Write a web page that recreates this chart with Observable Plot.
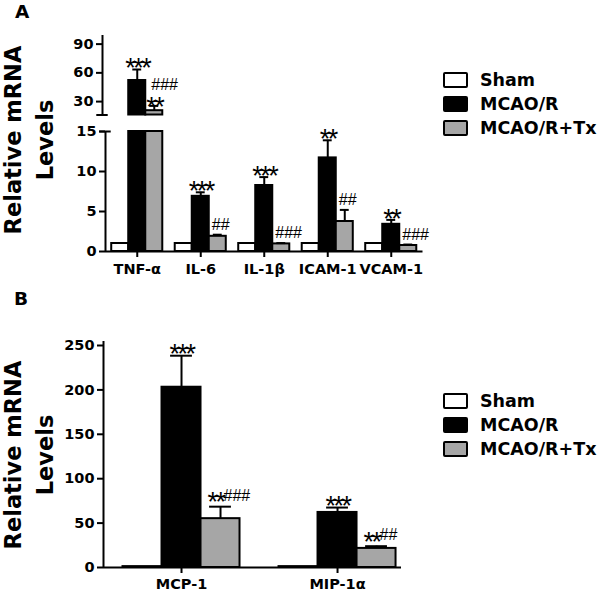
<!DOCTYPE html>
<html>
<head>
<meta charset="utf-8">
<script src="https://cdn.jsdelivr.net/npm/d3@7"></script>
<script src="https://cdn.jsdelivr.net/npm/@observablehq/plot@0.6"></script>
<style>
  body { margin: 0; background: #fff; }
  #fig { position: relative; width: 600px; height: 594px; overflow: hidden; background: #fff;
         font-family: "DejaVu Sans", sans-serif; font-weight: bold; color: #000; }
  #fig svg { position: absolute; left: 0; }
  #fig g[font-size="27"] text { letter-spacing: -2.5px; }
  .letter { position: absolute; font-size: 18.5px; line-height: 1; }
  .ytitle { position: absolute; width: 260px; height: 64px; line-height: 32px; font-size: 22.5px;
            text-align: center; transform: rotate(-90deg); white-space: nowrap; }
  .legend { position: absolute; left: 443px; }
  .legend .row { position: absolute; left: 0; display: flex; align-items: center; height: 24px;
                 font-size: 17.5px; white-space: nowrap; }
  .legend .sw { box-sizing: border-box; width: 25px; height: 16px; border: 2.5px solid #000;
                border-radius: 2px; margin-right: 12px; }
</style>
</head>
<body>
<div id="fig"></div>
<script>
// ---------- data ----------
const groups = ["Sham", "MCAO/R", "MCAO/R+Tx"];
const groupFills = ["#ffffff", "#000000", "#a6a6a6"];

// Panel A
const genesA = ["TNF-α", "IL-6", "IL-1β", "ICAM-1", "VCAM-1"];
const shamA = [1, 1, 1, 1, 1];
const mcaoA = [52, 6.9, 8.25, 11.7, 3.4];
const txA = [20.5, 1.9, 0.95, 3.75, 0.75];
const shamErrA = [0, 0, 0, 0, 0];
const mcaoErrA = [11.5, 0.5, 1.05, 2.2, 0.55];
const txErrA = [5, 0.2, 0.1, 1.45, 0.12];
const mcaoSigA = ["***", "***", "***", "**", "**"];
const txSigA = ["**", "", "", "", ""];
const txHashA = ["###", "##", "###", "##", "###"];
const yTicksLowA = [0, 5, 10, 15];
const yTicksHighA = [30, 60, 90];

// Panel B
const genesB = ["MCP-1", "MIP-1α"];
const shamB = [1, 1];
const mcaoB = [203, 62];
const txB = [55, 21.5];
const shamErrB = [0, 0];
const mcaoErrB = [35.5, 5.5];
const txErrB = [13.5, 2.5];
const mcaoSigB = ["***", "***"];
const txSigB = ["**", "**"];
const txHashB = ["###", "##"];
const yTicksB = [0, 50, 100, 150, 200, 250];

const yTitle = ["Relative mRNA", "Levels"];

// ---------- helpers ----------
function buildRows(genes, vals, errs, mSig, tSig, tHash) {
  return genes.flatMap((gene, i) => groups.map((group, j) => ({
    gene, i, group, j,
    value: vals[j][i], err: errs[j][i], top: vals[j][i] + errs[j][i],
    sig: j === 1 ? mSig[i] : j === 2 ? tSig[i] : "",
    hash: j === 2 ? tHash[i] : ""
  })));
}
const cxF = bw => d => d.i + (d.j - 1) * bw;
const x1F = bw => d => d.i + (d.j - 1.5) * bw;
const x2F = bw => d => d.i + (d.j - 0.5) * bw;
const barStyle = {fill: "group", stroke: "#000", strokeWidth: 2};
const axisFont = {fontFamily: "DejaVu Sans", fontWeight: "bold", fontSize: 14.5};
const starFont = {fontFamily: "Liberation Sans", fontWeight: "normal", fontSize: 27};
const hashFont = {fontFamily: "Liberation Sans", fontWeight: "normal", fontSize: 16};
const svgStyle = {fontFamily: "DejaVu Sans", fontWeight: "bold", fontSize: "14.5px", background: "transparent", overflow: "visible"};

function annotA(rows, cx) {
  return [
    Plot.text(rows.filter(d => d.j === 1), {x: cx, y: "top", text: "sig", dy: -1, ...starFont}),
    Plot.text(rows.filter(d => d.j === 2 && d.sig), {x: cx, y: "top", text: "sig", dy: 1, ...starFont}),
    Plot.text(rows.filter(d => d.j === 2 && !d.sig), {x: cx, y: "top", text: "hash", textAnchor: "start", dx: -6, dy: -10, ...hashFont}),
    Plot.text(rows.filter(d => d.j === 2 && d.sig), {x: cx, y: "top", text: "hash", textAnchor: "start", dx: -3, dy: -21, ...hashFont})
  ];
}

const fig = document.getElementById("fig");

// ---------- Panel A (broken axis: lower and upper segments) ----------
const rowsA = buildRows(genesA, [shamA, mcaoA, txA], [shamErrA, mcaoErrA, txErrA], mcaoSigA, txSigA, txHashA);
const LOW_MAX = 15, HIGH_MIN = 16, HIGH_MAX = 99;
const xDomA = [-0.5, genesA.length - 0.5];
const bwA = 0.268, capA = 0.07, brkA = 0.09;
const cxA = cxF(bwA);
const lowRowsA = rowsA.filter(d => d.value <= LOW_MAX);
const highRowsA = rowsA.filter(d => d.value > HIGH_MIN);

const plotALow = Plot.plot({
  width: 600, height: 290,
  marginLeft: 105, marginRight: 177.5, marginTop: 131, marginBottom: 39,
  x: {domain: xDomA},
  y: {domain: [0, LOW_MAX]},
  color: {domain: groups, range: groupFills},
  style: svgStyle,
  marks: [
    Plot.rect(rowsA, {x1: x1F(bwA), x2: x2F(bwA), y1: 0, y2: d => Math.min(d.value, LOW_MAX), ...barStyle}),
    Plot.ruleX(lowRowsA.filter(d => d.err > 0), {x: cxA, y1: "value", y2: "top", strokeWidth: 2}),
    Plot.ruleY(lowRowsA.filter(d => d.err > 0), {y: "top", x1: d => cxA(d) - capA, x2: d => cxA(d) + capA, strokeWidth: 2}),
    Plot.ruleY([0], {strokeWidth: 2}),
    Plot.ruleX([xDomA[0]], {y1: 0, y2: LOW_MAX, strokeWidth: 2}),
    Plot.ruleY([LOW_MAX], {x1: xDomA[0] - brkA, x2: xDomA[0] + brkA, strokeWidth: 2}),
    Plot.axisY(yTicksLowA, {tickSize: 6, tickPadding: 3, strokeWidth: 2, label: null, ...axisFont}),
    Plot.axisX(d3.range(genesA.length), {tickFormat: i => genesA[i], tickSize: 6, tickPadding: 6, strokeWidth: 2, label: null, ...axisFont}),
    ...annotA(lowRowsA, cxA)
  ]
});
plotALow.style.top = "0px";
fig.appendChild(plotALow);

const plotAHigh = Plot.plot({
  width: 600, height: 120,
  marginLeft: 105, marginRight: 177.5, marginTop: 35, marginBottom: 5.5,
  x: {domain: xDomA, axis: null},
  y: {domain: [HIGH_MIN, HIGH_MAX]},
  color: {domain: groups, range: groupFills},
  style: svgStyle,
  marks: [
    Plot.rect(highRowsA, {x1: x1F(bwA), x2: x2F(bwA), y1: HIGH_MIN, y2: "value", ...barStyle}),
    Plot.ruleX(highRowsA.filter(d => d.err > 0), {x: cxA, y1: "value", y2: "top", strokeWidth: 2}),
    Plot.ruleY(highRowsA.filter(d => d.err > 0), {y: "top", x1: d => cxA(d) - capA, x2: d => cxA(d) + capA, strokeWidth: 2}),
    Plot.ruleX([xDomA[0]], {y1: HIGH_MIN, y2: HIGH_MAX, strokeWidth: 2, dx: -3}),
    Plot.ruleY([HIGH_MIN], {x1: xDomA[0] - brkA, x2: xDomA[0] + brkA, strokeWidth: 2, dx: -3}),
    Plot.axisY(yTicksHighA, {tickSize: 6, tickPadding: 3, strokeWidth: 2, label: null, dx: -3, ...axisFont}),
    ...annotA(highRowsA, cxA)
  ]
});
plotAHigh.style.top = "0px";
fig.appendChild(plotAHigh);

// ---------- Panel B ----------
const rowsB = buildRows(genesB, [shamB, mcaoB, txB], [shamErrB, mcaoErrB, txErrB], mcaoSigB, txSigB, txHashB);
const errRowsB = rowsB.filter(d => d.err > 0);
const xDomB = [-0.5, genesB.length - 0.59];
const yMaxB = 254.5;
const bwB = 0.25, capB = 0.07;
const cxB = cxF(bwB);

const plotB = Plot.plot({
  width: 600, height: 304,
  marginLeft: 103, marginRight: 199, marginTop: 51, marginBottom: 27,
  x: {domain: xDomB},
  y: {domain: [0, yMaxB]},
  color: {domain: groups, range: groupFills},
  style: svgStyle,
  marks: [
    Plot.rect(rowsB, {x1: x1F(bwB), x2: x2F(bwB), y1: 0, y2: "value", ...barStyle}),
    Plot.ruleX(errRowsB, {x: cxB, y1: "value", y2: "top", strokeWidth: 2}),
    Plot.ruleY(errRowsB, {y: "top", x1: d => cxB(d) - capB, x2: d => cxB(d) + capB, strokeWidth: 2}),
    Plot.ruleY([0], {strokeWidth: 2}),
    Plot.ruleX([xDomB[0]], {y1: 0, y2: yMaxB, strokeWidth: 2}),
    Plot.axisY(yTicksB, {tickSize: 6, tickPadding: 3, strokeWidth: 2, label: null, ...axisFont}),
    Plot.axisX(d3.range(genesB.length), {tickFormat: i => genesB[i], tickSize: 6, tickPadding: 5, strokeWidth: 2, label: null, ...axisFont}),
    Plot.text(rowsB.filter(d => d.j === 1), {x: cxB, y: "top", text: "sig", dy: -1, ...starFont}),
    Plot.text(rowsB.filter(d => d.j === 2), {x: cxB, y: "top", text: "sig", textAnchor: "end", dx: 3, dy: -4, ...starFont}),
    Plot.text(rowsB.filter(d => d.j === 2), {x: cxB, y: "top", text: "hash", textAnchor: "start", dx: 3, dy: -11, ...hashFont})
  ]
});
plotB.style.top = "290px";
fig.appendChild(plotB);

// ---------- labels, titles, legends ----------
function addDiv(cls, text, css) {
  const el = document.createElement("div");
  el.className = cls;
  if (text != null) el.textContent = text;
  Object.assign(el.style, css);
  fig.appendChild(el);
  return el;
}
addDiv("letter", "A", {left: "15px", top: "3px"});
addDiv("letter", "B", {left: "14px", top: "290px"});

function addTitle(cy) {
  const el = addDiv("ytitle", null, {left: (28.5 - 130) + "px", top: (cy - 32) + "px"});
  yTitle.forEach(t => { const l = document.createElement("div"); l.textContent = t; el.appendChild(l); });
}
addTitle(140);
addTitle(455);

function addLegend(centers) {
  const lg = addDiv("legend", null, {top: "0px"});
  groups.forEach((g, j) => {
    const row = document.createElement("div");
    row.className = "row";
    row.style.top = (centers[j] - 12) + "px";
    const sw = document.createElement("div");
    sw.className = "sw";
    sw.style.background = groupFills[j];
    const tx = document.createElement("span");
    tx.textContent = g;
    row.appendChild(sw); row.appendChild(tx);
    lg.appendChild(row);
  });
}
addLegend([80, 104, 128]);
addLegend([401, 425, 449]);
</script>
</body>
</html>
